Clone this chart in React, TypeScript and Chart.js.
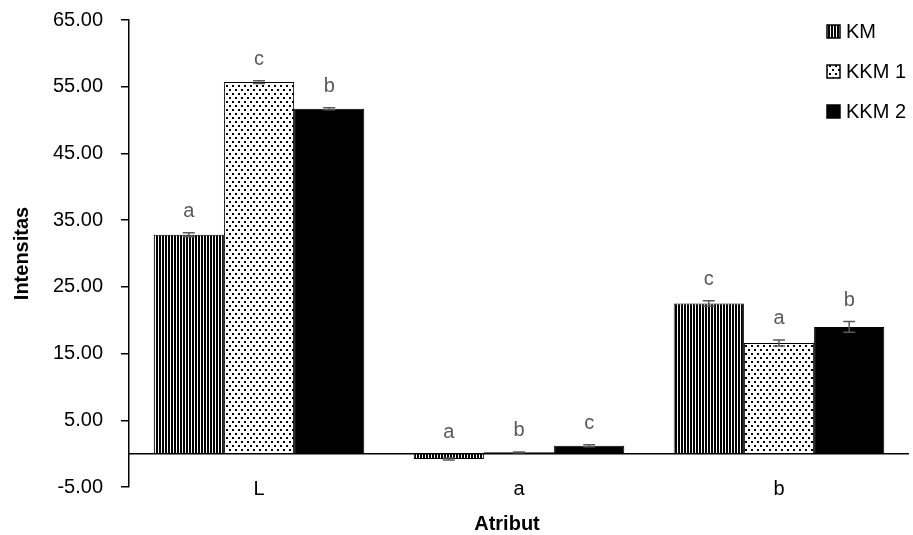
import React, { useEffect, useRef } from 'react';
import { Chart, registerables } from 'chart.js';

Chart.register(...registerables);

const FONT = "'Liberation Sans', Arial, sans-serif";

const categories = ['L', 'a', 'b'];
const seriesNames = ['KM', 'KKM 1', 'KKM 2'];
const kmValues = [32.8, -0.8, 22.5];
const kkm1Values = [55.7, 0.2, 16.6];
const kkm2Values = [51.7, 1.2, 19.0];
const kmErrors = [0.3, 0.15, 0.4];
const kkm1Errors = [0.2, 0.05, 0.45];
const kkm2Errors = [0.15, 0.15, 0.8];
const kmLetters = ['a', 'a', 'c'];
const kkm1Letters = ['c', 'b', 'a'];
const kkm2Letters = ['b', 'c', 'b'];
const yMin = -5;
const yMax = 65;
const yStep = 10;
const xTitle = 'Atribut';
const yTitle = 'Intensitas';

function stripePattern(): CanvasPattern | string {
  const c = document.createElement('canvas');
  c.width = 3;
  c.height = 4;
  const x = c.getContext('2d');
  if (!x) return '#000';
  x.fillStyle = '#fff';
  x.fillRect(0, 0, 3, 4);
  x.fillStyle = '#000';
  x.fillRect(0, 0, 2, 4);
  return x.createPattern(c, 'repeat') || '#000';
}

function dotPattern(): CanvasPattern | string {
  const c = document.createElement('canvas');
  c.width = 6;
  c.height = 8;
  const x = c.getContext('2d');
  if (!x) return '#fff';
  x.fillStyle = '#fff';
  x.fillRect(0, 0, 6, 8);
  x.fillStyle = '#000';
  x.fillRect(1, 1, 2, 2);
  x.fillRect(4, 5, 2, 2);
  return x.createPattern(c, 'repeat') || '#fff';
}

export default function App() {
  const ref = useRef<HTMLCanvasElement | null>(null);

  useEffect(() => {
    const canvas = ref.current;
    if (!canvas) return;
    const fills = [stripePattern(), dotPattern(), '#000'];
    const values = [kmValues, kkm1Values, kkm2Values];
    const errors = [kmErrors, kkm1Errors, kkm2Errors];
    const letters = [kmLetters, kkm1Letters, kkm2Letters];

    const annot = {
      id: 'annot',
      afterDatasetsDraw(chart: any) {
        const ctx = chart.ctx;
        const ys = chart.scales.y;
        const area = chart.chartArea;
        const y0 = ys.getPixelForValue(0);
        ctx.save();
        ctx.strokeStyle = '#000';
        ctx.lineWidth = 1.5;
        ctx.beginPath();
        ctx.moveTo(area.left, y0);
        ctx.lineTo(area.right, y0);
        ctx.stroke();
        values.forEach((vals, i) => {
          const meta = chart.getDatasetMeta(i);
          meta.data.forEach((el: any, j: number) => {
            const v = vals[j];
            const e = errors[i][j];
            const x = el.x;
            const yt = ys.getPixelForValue(v + e);
            const yb = ys.getPixelForValue(v - e);
            ctx.strokeStyle = '#595959';
            ctx.lineWidth = 1.5;
            ctx.beginPath();
            ctx.moveTo(x, yt);
            ctx.lineTo(x, yb);
            ctx.moveTo(x - 6, yt);
            ctx.lineTo(x + 6, yt);
            ctx.moveTo(x - 6, yb);
            ctx.lineTo(x + 6, yb);
            ctx.stroke();
            ctx.fillStyle = '#595959';
            ctx.font = `20px ${FONT}`;
            ctx.textAlign = 'center';
            ctx.textBaseline = 'alphabetic';
            const ly = ys.getPixelForValue(Math.max(v + e, 0)) - 16;
            ctx.fillText(letters[i][j], x, ly);
          });
        });
        ctx.restore();
      },
      afterDraw(chart: any) {
        const ctx = chart.ctx;
        const xs = chart.scales.x;
        ctx.save();
        ctx.fillStyle = '#000';
        ctx.font = `20px ${FONT}`;
        ctx.textAlign = 'center';
        ctx.textBaseline = 'alphabetic';
        categories.forEach((c, i) => {
          ctx.fillText(c, xs.getPixelForValue(i), 495);
        });
        seriesNames.forEach((name, i) => {
          const cy = 31 + i * 40;
          ctx.fillStyle = fills[i];
          ctx.fillRect(827, cy - 6, 13, 13);
          ctx.strokeStyle = '#000';
          ctx.lineWidth = 1.5;
          ctx.strokeRect(827, cy - 6, 13, 13);
          ctx.fillStyle = '#000';
          ctx.font = `20px ${FONT}`;
          ctx.textAlign = 'left';
          ctx.textBaseline = 'middle';
          ctx.fillText(name, 846, cy + 1);
        });
        ctx.font = `bold 20px ${FONT}`;
        ctx.textAlign = 'center';
        ctx.textBaseline = 'alphabetic';
        ctx.fillStyle = '#000';
        ctx.fillText(xTitle, 507, 530);
        ctx.restore();
      },
    };

    const chart = new Chart(canvas, {
      type: 'bar',
      data: {
        labels: categories,
        datasets: values.map((vals, i) => ({
          label: seriesNames[i],
          data: vals,
          backgroundColor: fills[i] as any,
          borderColor: '#000',
          borderWidth: 1,
          barPercentage: 1,
          categoryPercentage: 0.81,
        })),
      },
      options: {
        responsive: false,
        devicePixelRatio: 1,
        animation: false,
        layout: { padding: { top: 20, right: 4, left: 0, bottom: 0 } },
        plugins: {
          legend: { display: false },
          tooltip: { enabled: false },
        },
        scales: {
          x: {
            grid: { display: false, drawTicks: false },
            border: { display: false },
            ticks: { display: false },
            afterFit: (s: any) => {
              s.height = 48;
              s.paddingLeft = 0;
              s.paddingRight = 0;
            },
          },
          y: {
            min: yMin,
            max: yMax,
            ticks: {
              stepSize: yStep,
              color: '#000',
              font: { family: FONT, size: 20 },
              padding: 18,
              callback: (v: any) => Number(v).toFixed(2),
            },
            grid: {
              display: true,
              drawOnChartArea: false,
              drawTicks: true,
              tickLength: 8,
              color: '#000',
              lineWidth: 1.5,
            },
            border: { display: true, color: '#000', width: 1.5 },
            title: {
              display: true,
              text: yTitle,
              color: '#000',
              font: { family: FONT, size: 20, weight: 'bold' },
              padding: { top: 10, bottom: 0 },
            },
            afterFit: (s: any) => {
              s.width = 129;
              s.paddingTop = 0;
              s.paddingBottom = 0;
            },
          },
        },
      },
      plugins: [annot],
    });
    return () => chart.destroy();
  }, []);

  return (
    <div style={{ position: 'absolute', left: 0, top: 0, width: 913, height: 535, background: '#fff' }}>
      <canvas ref={ref} width={913} height={535} />
    </div>
  );
}
